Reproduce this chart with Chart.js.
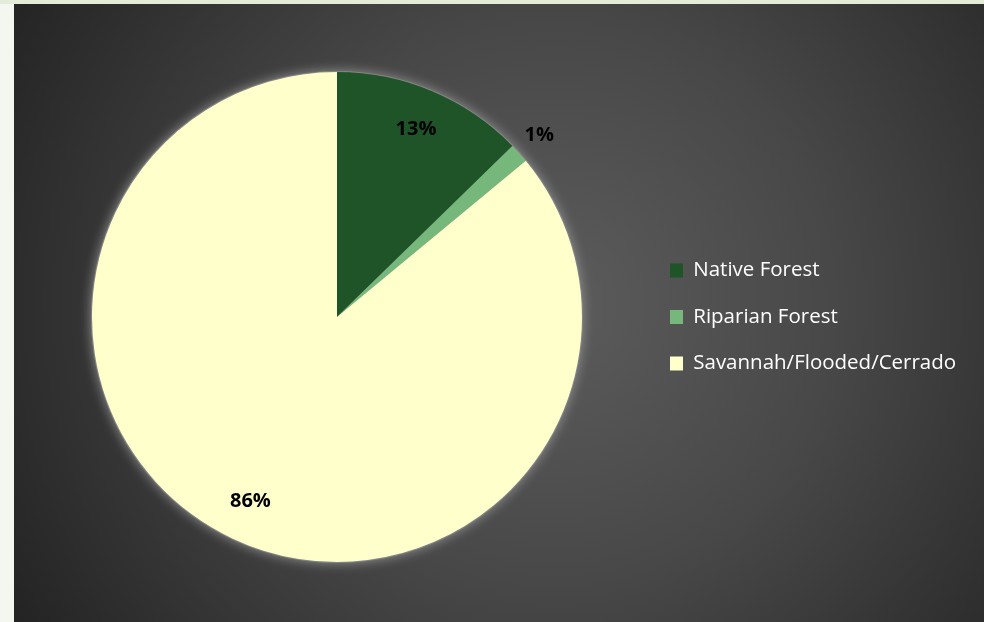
<!DOCTYPE html>
<html>
<head>
<meta charset="utf-8">
<script src="https://cdn.jsdelivr.net/npm/chart.js@4"></script>
<style>
  html, body { margin: 0; padding: 0; }
  body { width: 984px; height: 622px; background: #f4f7ef; position: relative; overflow: hidden; }
  .topstrip { position: absolute; left: 0; top: 0; width: 984px; height: 4px; background: #e3ecdb; }
  #wrap { position: absolute; left: 14px; top: 4px; width: 970px; height: 618px; }
</style>
</head>
<body>
<div class="topstrip"></div>
<div id="wrap"><canvas id="c" width="970" height="618"></canvas></div>
<script>
const categories = ['Native Forest', 'Riparian Forest', 'Savannah/Flooded/Cerrado'];
const shares = [12.7, 1.3, 86.0];
const sliceColors = ['#1f5429', '#76b87b', '#ffffcc'];

const FONT = '"Open Sans", "Noto Sans", sans-serif';

const bgPlugin = {
  id: 'bg',
  beforeDraw(chart) {
    const ctx = chart.ctx;
    const w = chart.width, h = chart.height;
    ctx.save();
    const g = ctx.createRadialGradient(540, 300, 0, 540, 300, 620);
    g.addColorStop(0, '#5c5c5c');
    g.addColorStop(0.45, '#484848');
    g.addColorStop(1, '#242424');
    ctx.fillStyle = g;
    ctx.fillRect(0, 0, w, h);
    ctx.restore();
  }
};

const haloPlugin = {
  id: 'halo',
  beforeDatasetsDraw(chart) {
    const arc = chart.getDatasetMeta(0).data[0];
    if (!arc) return;
    const ctx = chart.ctx;
    ctx.save();
    ctx.shadowColor = 'rgba(150,150,150,0.95)';
    ctx.shadowBlur = 12;
    ctx.fillStyle = '#858585';
    ctx.beginPath();
    ctx.arc(arc.x, arc.y, arc.outerRadius + 1, 0, Math.PI * 2);
    ctx.fill();
    ctx.restore();
  }
};

const labelPlugin = {
  id: 'pctLabels',
  afterDatasetsDraw(chart) {
    const meta = chart.getDatasetMeta(0);
    const data = chart.data.datasets[0].data;
    const total = data.reduce((a, b) => a + b, 0);
    const ctx = chart.ctx;
    ctx.save();
    ctx.font = 'bold 20px ' + FONT;
    ctx.fillStyle = '#000';
    ctx.textAlign = 'center';
    ctx.textBaseline = 'middle';
    meta.data.forEach((arc, i) => {
      const pct = data[i] / total * 100;
      const mid = (arc.startAngle + arc.endAngle) / 2;
      const rf = pct < 5 ? 1.11 : 0.83;
      const x = arc.x + Math.cos(mid) * arc.outerRadius * rf;
      const y = arc.y + Math.sin(mid) * arc.outerRadius * rf;
      ctx.fillText(Math.round(pct) + '%', x, y);
    });
    ctx.restore();
  }
};

const legendWidthPlugin = {
  id: 'legendWidth',
  beforeInit(chart) {
    if (!chart.legend) return;
    const origFit = chart.legend.fit;
    chart.legend.fit = function () {
      origFit.call(this);
      this.width = 340;
    };
  }
};

new Chart(document.getElementById('c'), {
  type: 'pie',
  data: {
    labels: categories,
    datasets: [{
      data: shares,
      backgroundColor: sliceColors,
      borderWidth: 0
    }]
  },
  options: {
    responsive: false,
    animation: false,
    layout: { padding: { left: 16, right: 0, top: 68, bottom: 60 } },
    plugins: {
      tooltip: { enabled: false },
      legend: {
        position: 'right',
        align: 'center',
        labels: {
          color: '#ffffff',
          boxWidth: 13,
          boxHeight: 14,
          padding: 26,
          font: { family: FONT, size: 20.5 }
        }
      }
    }
  },
  plugins: [bgPlugin, haloPlugin, labelPlugin, legendWidthPlugin]
});
</script>
</body>
</html>
